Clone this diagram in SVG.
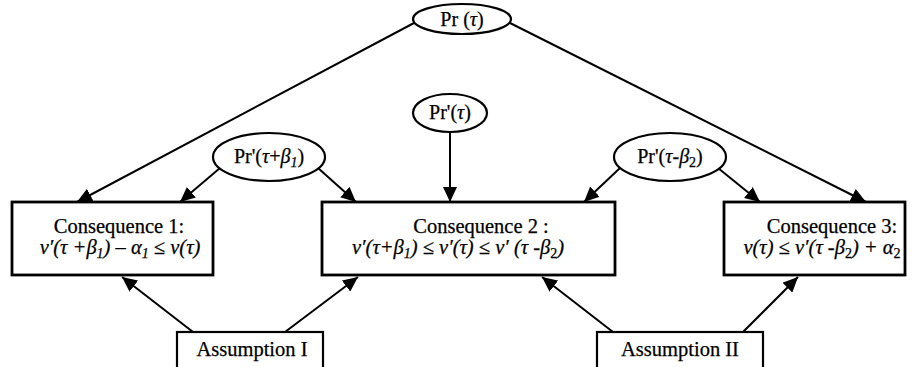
<svg xmlns="http://www.w3.org/2000/svg" width="915" height="367" viewBox="0 0 915 367">
<defs>
<marker id="ah" markerUnits="userSpaceOnUse" markerWidth="16" markerHeight="14" refX="15" refY="7" orient="auto">
<path d="M0,0 L15,7 L0,14 z" fill="#000"/>
</marker>
<style>
.n{fill:#fff;stroke:#000;stroke-width:2.2}
.b{fill:#fff;stroke:#000;stroke-width:2.8}
.t{font-family:"Liberation Serif","Times New Roman",serif;font-size:20.5px;fill:#000;stroke:#000;stroke-width:0.25;text-anchor:middle}
.e{font-family:"Liberation Serif","Times New Roman",serif;font-size:20px;fill:#000;stroke:#000;stroke-width:0.25;text-anchor:middle}
.f{font-family:"Liberation Serif","Times New Roman",serif;font-size:20.5px;font-style:italic;fill:#000;stroke:#000;stroke-width:0.25;text-anchor:middle}
.c line{stroke:#000;stroke-width:2;marker-end:url(#ah)}
</style>
</defs>
<rect width="915" height="367" fill="#fff"/>
<g class="c" id="connectors">
<line x1="414" y1="23" x2="77" y2="202"/>
<line x1="510" y1="23" x2="866" y2="202"/>
<line x1="220" y1="168" x2="180" y2="202"/>
<line x1="318" y1="168" x2="356" y2="202"/>
<line x1="450" y1="132" x2="450" y2="202"/>
<line x1="620" y1="168" x2="584" y2="202"/>
<line x1="718" y1="168" x2="760" y2="202"/>
<line x1="193" y1="332" x2="122" y2="277"/>
<line x1="285" y1="332" x2="358" y2="277"/>
<line x1="613" y1="332" x2="542" y2="277"/>
<line x1="743" y1="332" x2="798" y2="277"/>
</g>
<g id="pr">
<ellipse class="n" cx="462" cy="19" rx="49" ry="15"/>
<text class="e" x="462" y="26">Pr (<tspan font-style="italic">τ</tspan>)</text>
</g>
<g id="pr1">
<ellipse class="n" cx="450" cy="113" rx="37" ry="19"/>
<text class="e" x="450" y="119">Pr'(<tspan font-style="italic">τ</tspan>)</text>
</g>
<g id="prb1">
<ellipse class="n" cx="269" cy="157" rx="56" ry="24"/>
<text class="e" x="269" y="163">Pr'(<tspan font-style="italic">τ</tspan>+<tspan font-style="italic">β<tspan font-size="14" dy="4">1</tspan></tspan><tspan dy="-4">)</tspan></text>
</g>
<g id="prb2">
<ellipse class="n" cx="670" cy="157" rx="56" ry="24"/>
<text class="e" x="670" y="163">Pr'(<tspan font-style="italic">τ</tspan>-<tspan font-style="italic">β</tspan><tspan font-size="14" dy="4">2</tspan><tspan dy="-4">)</tspan></text>
</g>
<g id="c1">
<rect class="b" x="12" y="202" width="201" height="73"/>
<text class="t" x="119" y="233">Consequence 1:</text>
<text class="f" x="120" y="254">ν′(τ +β<tspan font-size="14" dy="4">1</tspan><tspan dy="-4">) – α</tspan><tspan font-size="14" dy="4">1</tspan><tspan dy="-4"> ≤ ν(τ)</tspan></text>
</g>
<g id="c2">
<rect class="b" x="322" y="202" width="293" height="73"/>
<text class="t" x="481" y="233">Consequence 2 :</text>
<text class="f" x="458" y="254">ν′(τ+β<tspan font-size="14" dy="4">1</tspan><tspan dy="-4">) ≤ ν′(τ) ≤ ν′ (τ -β</tspan><tspan font-size="14" dy="4" font-style="normal">2</tspan><tspan dy="-4">)</tspan></text>
</g>
<g id="c3">
<rect class="b" x="724" y="202" width="181" height="73"/>
<text class="t" x="832" y="233">Consequence 3:</text>
<text class="f" x="822" y="254">ν(τ) ≤ ν′(τ -β<tspan font-size="14" dy="4" font-style="normal">2</tspan><tspan dy="-4">) + α</tspan><tspan font-size="14" dy="4" font-style="normal">2</tspan></text>
</g>
<g id="a1">
<rect class="n" x="177" y="332" width="146" height="50"/>
<text class="t" x="252" y="356">Assumption I</text>
</g>
<g id="a2">
<rect class="n" x="597" y="332" width="166" height="50"/>
<text class="t" x="680" y="356">Assumption II</text>
</g>
</svg>
